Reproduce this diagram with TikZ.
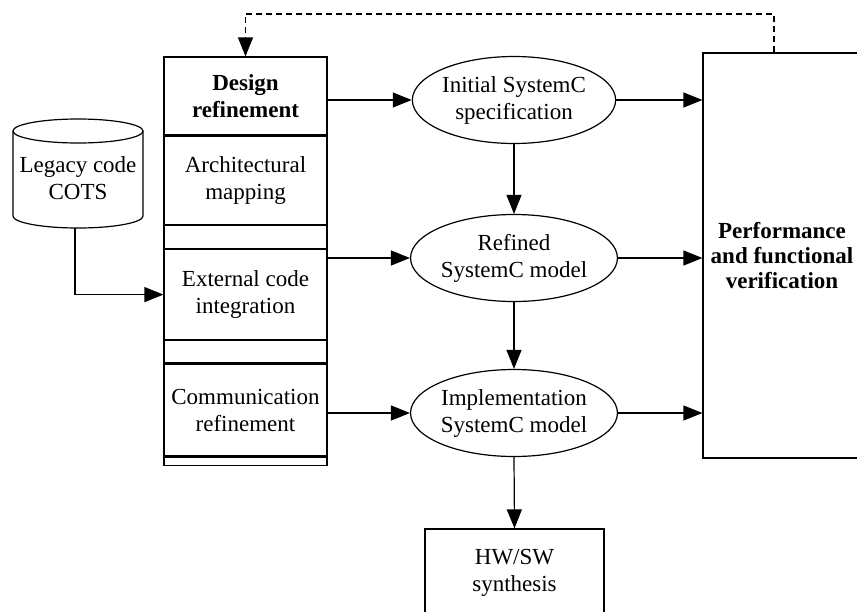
\documentclass[tikz,border=0pt]{standalone}
\usepackage{fontspec}
\setmainfont{Liberation Serif}
\usetikzlibrary{arrows.meta,positioning,shapes.geometric}

\tikzset{
sect/.style={draw, minimum width=81.5pt, align=center, inner sep=0pt},
spec/.style={draw, ellipse, minimum width=101pt, minimum height=43.5pt, inner sep=0pt, align=center},
blk/.style={draw, align=center, inner sep=0pt},
boldtxt/.style={font=\fontsize{11.5}{13.5}\selectfont\bfseries}
}

\begin{document}
\begin{tikzpicture}[x=0.5pt,y=-0.5pt,>={Triangle[length=9.5pt,width=7.5pt]},line width=0.6pt,font=\fontsize{11.5}{13.5}\selectfont]
\useasboundingbox (0,0) rectangle (857,611);
\clip (0,0) rectangle (857,611);

\node[sect,boldtxt,minimum height=39pt]   (design)   at (245.5,96)   {Design\\refinement};
\node[sect,minimum height=44pt]   (arch)   [below=0pt of design]   {Architectural\\mapping};
\node[sect,minimum height=11.5pt]   (gapa)   [below=0pt of arch]   {};
\node[sect,minimum height=45pt]   (ext)   [below=0pt of gapa]   {External code\\integration};
\node[sect,minimum height=11pt]   (gapb)   [below=0pt of ext]   {};
\node[sect,minimum height=46pt]   (comm)   [below=0pt of gapb]   {Communication\\refinement};
\node[sect,minimum height=4pt]   (gapc)   [below=0pt of comm]   {};

\node[spec]   (init)   at (514,100)   {Initial SystemC\\specification};
\node[spec]   (refined)   at (514,258)   {Refined\\SystemC model};
\node[spec]   (impl)   at (514,413)   {Implementation\\SystemC model};

\node[blk,minimum width=79pt,minimum height=202.5pt,font=\fontsize{11.5}{12.5}\selectfont\bfseries]   (perf)   at (782,255.5)   {Performance\\and functional\\verification};
\node[blk,minimum width=89.5pt,minimum height=43.5pt]   (hwsw)   at (514.5,572.5)   {HW/SW\\synthesis};

% legacy code store
\draw (13,131) -- (13,216) arc[start angle=180,end angle=360,x radius=32.5pt,y radius=6pt] -- (143,131);
\draw (78,131) ellipse [x radius=32.5pt,y radius=6pt];
\node[align=center]   (legacy)   at (78,178)   {Legacy code\\COTS};
\coordinate (legacyout) at (75,228);
\coordinate (fb) at (774,14);

\path[->] (design.east |- init.west)  edge  (init.west)
(ext.east |- refined.west)  edge  (refined.west)
(comm.east |- impl.west)  edge  (impl.west)

(init.east)  edge  (init.east -| perf.west)
(refined.east)  edge  (refined.east -| perf.west)
(impl.east)  edge  (impl.east -| perf.west)

(init.south)  edge  (refined.north)
(refined.south)  edge  (impl.north)
(impl.south)  edge  (hwsw.north);

\draw[->] (legacyout) |- (ext.west);
\draw[->,dash pattern=on 3pt off 2pt] (perf.north -| fb) -- (fb) -| (design.north);

\end{tikzpicture}
\end{document}
